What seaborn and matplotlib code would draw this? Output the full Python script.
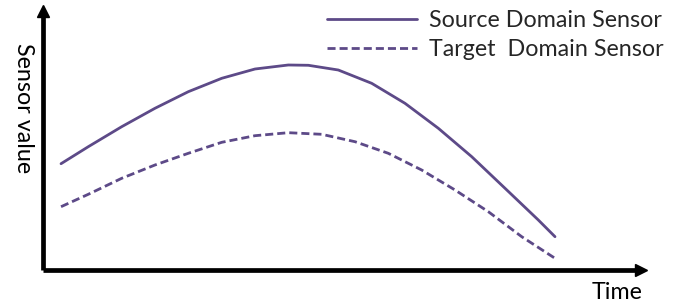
import numpy as np
import pandas as pd
import matplotlib
matplotlib.use("Agg")
import matplotlib.pyplot as plt
from matplotlib.font_manager import FontProperties
import seaborn as sns

# ---- data ----
source_time = [2.99, 7.51, 13.05, 18.57, 24.10, 29.64, 35.16, 40.68, 44.0,
               48.97, 54.51, 60.03, 65.56, 71.10, 76.62, 82.14, 84.91]
source_value = [40.15, 46.60, 54.19, 61.18, 67.48, 72.56, 76.09, 77.61, 77.50,
                75.71, 70.66, 63.07, 53.59, 42.81, 30.82, 18.79, 12.45]
target_time = [2.99, 7.51, 13.05, 18.57, 24.10, 29.64, 35.16, 40.68, 46.22,
               51.74, 57.26, 62.80, 68.33, 73.85, 79.39, 84.91]
target_value = [23.83, 28.54, 34.61, 39.66, 44.10, 48.27, 50.78, 51.92, 51.31,
                48.50, 44.10, 37.76, 30.17, 21.94, 12.45, 4.25]
series_names = ["Source Domain Sensor", "Target  Domain Sensor"]
x_label = "Time"
y_label = "Sensor value"

PURPLE = "#5d4a88"
FONT = ["Lato", "DejaVu Sans"]

sns.set_theme(style="white")
plt.rcParams["font.family"] = FONT

df = pd.DataFrame({
    "Time": source_time + target_time,
    "Value": source_value + target_value,
    "Series": [series_names[0]] * len(source_time) + [series_names[1]] * len(target_time),
})

W, H = 689, 303
fig = plt.figure(figsize=(W / 100, H / 100), dpi=100)
renderer = fig.canvas.get_renderer()


def size_for_width(text, target_px):
    prop = FontProperties(family=FONT, size=10)
    w, h, d = renderer.get_text_width_height_descent(text, prop, ismath=False)
    return 10 * target_px / w


fs_leg = size_for_width(series_names[0], 233)
fs_y = size_for_width(y_label, 130)
fs_x = size_for_width(x_label, 51)

x0, x1 = 43, 641
y0, y1 = 269.5, 11
ax = fig.add_axes([x0 / W, 1 - y0 / H, (x1 - x0) / W, (y0 - y1) / H])

sns.lineplot(data=df, x="Time", y="Value", style="Series", color=PURPLE,
             dashes={series_names[0]: "", series_names[1]: (2.9, 1.45)},
             linewidth=2.0, sort=False, ax=ax, legend=True)

ax.set_xlim(0, (x1 - x0) / (646 - 43) * 100)
ax.set_ylim(0, (y0 - y1) / (269.5 - 6) * 100)
ax.set_xticks([])
ax.set_yticks([])
ax.set_xlabel("")
ax.set_ylabel("")
for s in ["top", "right"]:
    ax.spines[s].set_visible(False)
for s in ["left", "bottom"]:
    ax.spines[s].set_color("black")
    ax.spines[s].set_linewidth(3.4)
    ax.spines[s].set_capstyle("butt")

ax.plot(1, 0, ">", color="black", markersize=9, transform=ax.transAxes, clip_on=False)
ax.plot(0, 1, "^", color="black", markersize=9, transform=ax.transAxes, clip_on=False)

# legend geometry
fs_px = fs_leg * 100 / 72
prop = FontProperties(family=FONT, size=fs_leg)
_, th, td = renderer.get_text_width_height_descent("lp", prop, ismath=False)
row_gap = 29.0
labelspacing = max(0.0, (row_gap - th) / fs_px)
top_px = 27 - (th - td)

handles, labels = ax.get_legend_handles_labels()
ax.legend(handles, labels, loc="upper left",
          bbox_to_anchor=(327 / W, 1 - top_px / H),
          bbox_transform=fig.transFigure, frameon=False, fontsize=fs_leg,
          handlelength=90 / fs_px, handletextpad=12 / fs_px,
          labelspacing=labelspacing, borderpad=0, borderaxespad=0)

fig.text(23 / W, 1 - 108 / H, y_label, rotation=270, ha="center", va="center",
         fontsize=fs_y, color="black")
fig.text(642 / W, 1 - 299 / H, x_label, ha="right", va="baseline",
         fontsize=fs_x, color="black")

fig.savefig("out.png", dpi=100)
